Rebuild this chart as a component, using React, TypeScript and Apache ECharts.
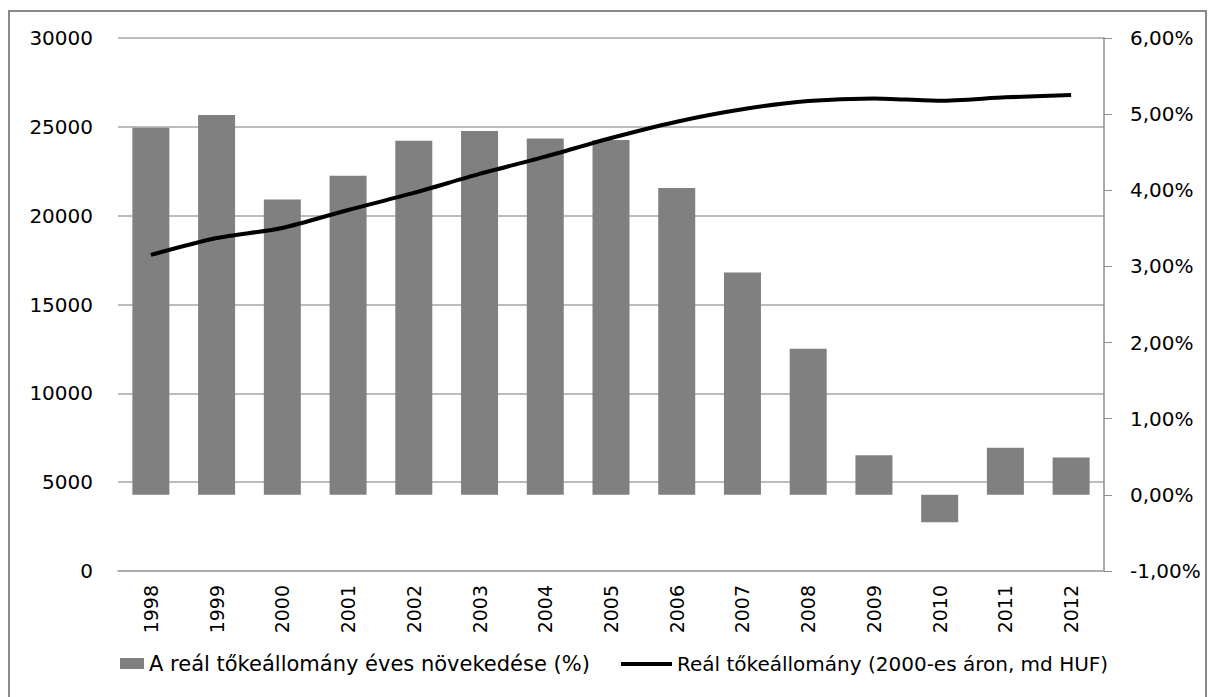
import React, { useEffect, useRef } from "react";
import * as echarts from "echarts";

const years = ["1998", "1999", "2000", "2001", "2002", "2003", "2004", "2005", "2006", "2007", "2008", "2009", "2010", "2011", "2012"];
const growthPct = [4.82, 4.99, 3.88, 4.19, 4.65, 4.78, 4.68, 4.66, 4.03, 2.92, 1.92, 0.52, -0.36, 0.62, 0.49];
const realStock = [17790, 18740, 19310, 20320, 21280, 22350, 23320, 24370, 25290, 25990, 26450, 26600, 26470, 26660, 26790];
const barName = "A reál tőkeállomány éves növekedése (%)";
const lineName = "Reál tőkeállomány (2000-es áron, md HUF)";

const FONT = "DejaVu Sans";

export default function App() {
  const ref = useRef<HTMLDivElement>(null);
  useEffect(() => {
    document.body.style.margin = "0";
    const chart = echarts.init(ref.current!, null, { renderer: "svg" });
    chart.setOption({
      animation: false,
      backgroundColor: "#ffffff",
      textStyle: { fontFamily: FONT },
      grid: { left: 118, right: 105, top: 38, bottom: 126, containLabel: false },
      graphic: [
        {
          type: "rect",
          shape: { x: 9, y: 11, width: 1197, height: 700 },
          style: { fill: "none", stroke: "#8a8a8a", lineWidth: 2 },
          silent: true,
        },
      ],
      legend: [
        {
          data: [{ name: barName, icon: "rect" }],
          left: 120,
          top: 653,
          padding: 0,
          itemWidth: 24,
          itemHeight: 11,
          textStyle: { fontFamily: FONT, fontSize: 21, color: "#000" },
        },
        {
          data: [{ name: lineName, icon: "rect" }],
          left: 621,
          top: 654,
          padding: 0,
          itemWidth: 51,
          itemHeight: 4,
          itemStyle: { color: "#000" },
          textStyle: { fontFamily: FONT, fontSize: 20, color: "#000" },
        },
      ],
      xAxis: {
        type: "category",
        data: years,
        axisLine: { show: true, onZero: false, lineStyle: { color: "#a6a6a6", width: 1.5 } },
        axisTick: { show: false },
        axisLabel: { rotate: 90, margin: 14, fontFamily: FONT, fontSize: 19, color: "#000" },
      },
      yAxis: [
        {
          type: "value",
          min: 0,
          max: 30000,
          interval: 5000,
          position: "left",
          axisLine: { show: false },
          axisTick: { show: false },
          splitLine: { show: true, lineStyle: { color: "#a6a6a6", width: 1.5 } },
          axisLabel: {
            margin: 25,
            fontFamily: FONT,
            fontSize: 20,
            color: "#000",
            formatter: (v: number) => String(v),
          },
        },
        {
          type: "value",
          min: -1,
          max: 6,
          interval: 1,
          position: "right",
          axisLine: { show: true, lineStyle: { color: "#8c8c8c", width: 1.5 } },
          axisTick: { show: true, inside: false, length: 8, lineStyle: { color: "#8c8c8c" } },
          splitLine: { show: false },
          axisLabel: {
            margin: 26,
            fontFamily: FONT,
            fontSize: 20,
            color: "#000",
            formatter: (v: number) => v.toFixed(2).replace(".", ",") + "%",
          },
        },
      ],
      series: [
        {
          name: barName,
          type: "bar",
          yAxisIndex: 1,
          data: growthPct,
          barWidth: 37,
          itemStyle: { color: "#808080" },
        },
        {
          name: lineName,
          type: "line",
          yAxisIndex: 0,
          data: realStock,
          symbol: "none",
          showSymbol: false,
          smooth: 0.25,
          lineStyle: { color: "#000000", width: 4 },
          itemStyle: { color: "#000000" },
        },
      ],
    });
    return () => chart.dispose();
  }, []);
  return <div ref={ref} style={{ width: 1209, height: 697 }} />;
}
